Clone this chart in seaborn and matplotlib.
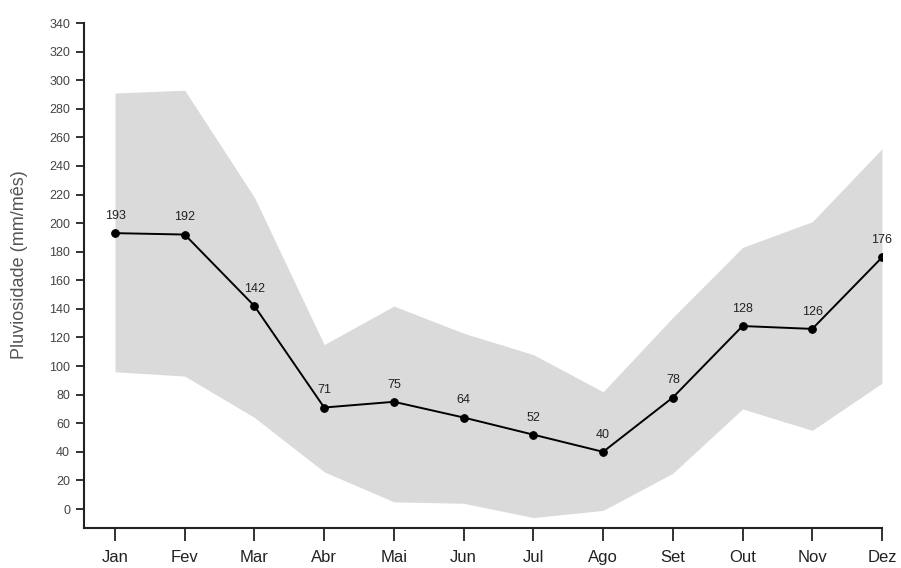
import matplotlib
matplotlib.use("Agg")
import matplotlib.pyplot as plt
import seaborn as sns
import pandas as pd

# Monthly rainfall: mean and observed range (mm/month)
months = ["Jan", "Fev", "Mar", "Abr", "Mai", "Jun", "Jul", "Ago", "Set", "Out", "Nov", "Dez"]
mean_rain = [193, 192, 142, 71, 75, 64, 52, 40, 78, 128, 126, 176]
upper_rain = [291, 293, 218, 115, 142, 123, 108, 82, 134, 183, 201, 252]
lower_rain = [96, 93, 64, 26, 5, 4, -6, -1, 25, 70, 55, 88]
y_ticks = list(range(0, 341, 20))

sns.set_style("ticks")
plt.rcParams["font.family"] = ["Liberation Sans", "DejaVu Sans"]

df = pd.DataFrame({"pos": range(len(months)), "mes": months, "chuva": mean_rain})

fig = plt.figure(figsize=(9.01, 5.68), dpi=100)
ax = fig.add_axes([0.0932, 0.0704, 0.8857, 0.8891])

ax.fill_between(df["pos"], lower_rain, upper_rain, color="#dadada", linewidth=0, zorder=1)

sns.lineplot(data=df, x="pos", y="chuva", ax=ax, color="black", linewidth=1.4,
             marker="o", markersize=5.5, markeredgecolor="black", zorder=3)

for x, v in zip(df["pos"], mean_rain):
    ax.annotate(str(v), (x, v), xytext=(0, 8), textcoords="offset points",
                ha="center", va="bottom", fontsize=9, color="#222222", zorder=4)

ax.set_xlim(-0.445, 11)
ax.set_ylim(-13.3, 340)
ax.set_xticks(df["pos"])
ax.set_xticklabels(months, fontsize=12, color="#222222")
ax.set_yticks(y_ticks)
ax.set_yticklabels([str(t) for t in y_ticks], fontsize=9, color="#444444")
ax.tick_params(axis="x", length=9, width=1.3, color="#222222", pad=7)
ax.tick_params(axis="y", length=6, width=1.3, color="#222222", pad=4)
ax.set_xlabel("")
ax.set_ylabel("Pluviosidade (mm/mês)", fontsize=13, color="#555555")
ax.yaxis.set_label_coords(-0.070, 0.522)

sns.despine(ax=ax)
for side in ("left", "bottom"):
    ax.spines[side].set_linewidth(1.5)
    ax.spines[side].set_color("#222222")

fig.savefig("out.png", dpi=100)
